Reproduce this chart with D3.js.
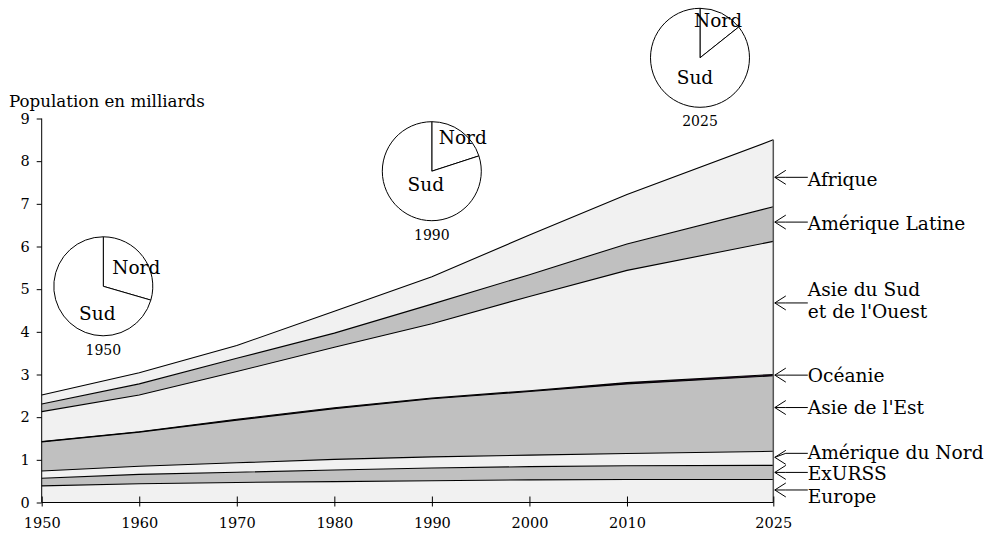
<!DOCTYPE html>
<html><head><meta charset="utf-8">
<script src="https://cdn.jsdelivr.net/npm/d3@7"></script>
<style>
html,body{margin:0;padding:0;background:#fff;}
svg{display:block;}
text{font-family:"DejaVu Serif",serif;fill:#000;}
</style></head>
<body>
<svg id="chart" width="988" height="535"></svg>
<script>
// ---- data (populations in billions) ----
const years = [1950, 1960, 1970, 1980, 1990, 2000, 2010, 2025];
const xTickYears = [1950, 1960, 1970, 1980, 1990, 2000, 2010, 2025];
const yTicks = [0, 1, 2, 3, 4, 5, 6, 7, 8, 9];
const europe   = [0.39, 0.44, 0.47, 0.49, 0.51, 0.53, 0.54, 0.54];
const exURSS   = [0.18, 0.22, 0.24, 0.27, 0.30, 0.31, 0.32, 0.33];
const amNord   = [0.17, 0.19, 0.22, 0.25, 0.26, 0.27, 0.29, 0.33];
const asieEst  = [0.68, 0.80, 1.00, 1.19, 1.36, 1.49, 1.63, 1.77];
const oceanie  = [0.01, 0.01, 0.02, 0.02, 0.02, 0.02, 0.03, 0.03];
const asieSud  = [0.70, 0.86, 1.12, 1.42, 1.74, 2.21, 2.63, 3.12];
const amLatine = [0.18, 0.26, 0.31, 0.33, 0.46, 0.51, 0.62, 0.81];
const afrique  = [0.21, 0.26, 0.30, 0.51, 0.64, 0.93, 1.16, 1.57];
const seriesNames = ["Europe", "ExURSS", "Amérique du Nord", "Asie de l'Est", "Océanie",
                     "Asie du Sud\net de l'Ouest", "Amérique Latine", "Afrique"];
const seriesValues = [europe, exURSS, amNord, asieEst, oceanie, asieSud, amLatine, afrique];
const pieYears = ["1950", "1990", "2025"];
const nordShare = [0.295, 0.20, 0.143];
const sudShare  = [0.705, 0.80, 0.857];

// ---- layout ----
const x = d3.scaleLinear().domain([1950, 2025]).range([41.7, 773.3]);
const y = d3.scaleLinear().domain([0, 9]).range([502.5, 118.5]);
const fills = ["#f1f1f1", "#c0c0c0", "#f1f1f1", "#c0c0c0", "#3a0a40", "#f1f1f1", "#c0c0c0", "#f1f1f1"];
const svg = d3.select("#chart");

const table = years.map((yr, i) => {
  const row = {year: yr};
  seriesNames.forEach((n, k) => row[n] = seriesValues[k][i]);
  return row;
});
const stacked = d3.stack().keys(seriesNames)(table);

const area = d3.area().x(d => x(d.data.year)).y0(d => y(d[0])).y1(d => y(d[1]));
const topLine = d3.line().x(d => x(d.data.year)).y(d => y(d[1]));

svg.append("g").selectAll("path").data(stacked).join("path")
  .attr("d", area).attr("fill", (d, i) => fills[i]).attr("stroke", "none");
svg.append("g").selectAll("path").data(stacked).join("path")
  .attr("d", topLine).attr("fill", "none").attr("stroke", "#000").attr("stroke-width", 1.1);

// right edge of areas
const topTotal = stacked[stacked.length - 1];
svg.append("line")
  .attr("x1", x(2025)).attr("x2", x(2025))
  .attr("y1", y(0)).attr("y2", y(topTotal[topTotal.length - 1][1]))
  .attr("stroke", "#555").attr("stroke-width", 1.5);

// y axis
const yAxis = svg.append("g").attr("transform", `translate(${x(1950)},0)`)
  .call(d3.axisLeft(y).tickValues(yTicks).tickSize(5).tickPadding(7).tickFormat(d3.format("d")));
yAxis.select(".domain").attr("d", `M0,${y(9)}V${y(0)}`).attr("stroke", "#000");
yAxis.selectAll("text").attr("font-family", "DejaVu Serif").attr("font-size", 14.5);

// x axis
const xAxis = svg.append("g").attr("transform", `translate(0,${y(0)})`)
  .call(d3.axisBottom(x).tickValues(xTickYears).tickSize(4).tickPadding(11).tickFormat(d3.format("d")));
xAxis.select(".domain").attr("d", `M${x(1950)},0H${x(2025)}`).attr("stroke", "#000");
xAxis.selectAll(".tick line").attr("y1", -6).attr("y2", 4);
xAxis.selectAll("text").attr("font-family", "DejaVu Serif").attr("font-size", 14.5);

// title
svg.append("text").attr("x", 9).attr("y", 107).attr("font-size", 16.7).text("Population en milliards");

// right-side labels with arrows
const last = years.length - 1;
const labelDy = [7, 1.5, -5, 0, 0, -2.5, 1, 2.5];  // text offset from arrow tip
const tipDy   = [-1, 0, -1, -6, 0, -5, -2, 4];
stacked.forEach((s, i) => {
  const mid = y((s[last][0] + s[last][1]) / 2) + tipDy[i];
  const ty = mid + labelDy[i];
  const tx = x(2025) + 1.5;
  const lineY = i === 2 ? ty + 1 : mid;
  const g = svg.append("g").attr("fill", "none").attr("stroke", "#000").attr("stroke-width", 1);
  g.append("path").attr("d", `M${tx + 33},${lineY}L${tx + 11},${lineY}L${tx},${mid}`);
  g.append("path").attr("d", `M${tx + 11},${mid - 7}L${tx},${mid}L${tx + 11},${mid + 7}`);
  const lines = seriesNames[i].split("\n");
  const t = svg.append("text").attr("x", tx + 33).attr("font-size", 18.6);
  if (lines.length === 1) {
    t.attr("y", ty).attr("dy", "0.35em").text(lines[0]);
  } else {
    t.attr("y", ty - 11).attr("dy", "0.35em").text(lines[0]);
    svg.append("text").attr("x", tx + 33).attr("font-size", 18.6)
      .attr("y", ty + 11).attr("dy", "0.35em").text(lines[1]);
  }
});

// pies (Nord / Sud)
const pieCenters = [[103.3, 286.3], [431.8, 171.2], [700, 57.8]];
const nordTxt = [[33, -19], [31, -34], [18, -37]];
const sudTxt  = [[-6, 27], [-6, 13], [-5, 20]];
const pie = d3.pie().sort(null).value(d => d);
const arc = d3.arc().innerRadius(0).outerRadius(49.5);
pieYears.forEach((yr, i) => {
  const [cx, cy] = pieCenters[i];
  const g = svg.append("g").attr("transform", `translate(${cx},${cy})`);
  g.selectAll("path").data(pie([nordShare[i], sudShare[i]])).join("path")
    .attr("d", arc).attr("fill", "#fff").attr("stroke", "#000").attr("stroke-width", 1);
  g.append("text").attr("x", nordTxt[i][0]).attr("y", nordTxt[i][1]).attr("dy", "0.35em")
    .attr("text-anchor", "middle").attr("font-size", 18.5).text("Nord");
  g.append("text").attr("x", sudTxt[i][0]).attr("y", sudTxt[i][1]).attr("dy", "0.35em")
    .attr("text-anchor", "middle").attr("font-size", 18.5).text("Sud");
  g.append("text").attr("x", 0).attr("y", 49.5 + 14).attr("dy", "0.35em")
    .attr("text-anchor", "middle").attr("font-size", 14).text(yr);
});
</script>
</body></html>
